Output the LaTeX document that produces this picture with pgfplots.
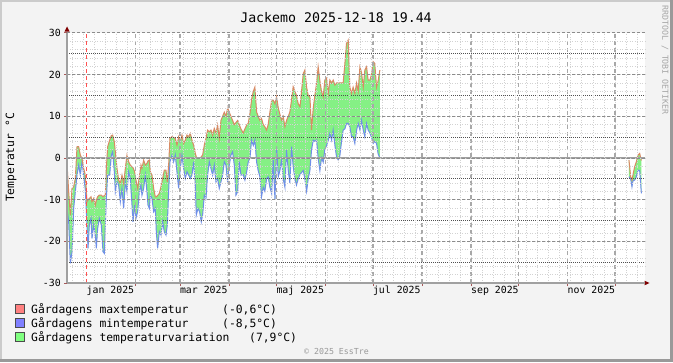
\documentclass[border=0pt]{standalone}
\usepackage{pgfplots}
\pgfplotsset{compat=1.18}
\usepackage{pgfplotstable}
\usepgfplotslibrary{fillbetween}
\usepackage{fontspec}
\setmainfont{DejaVu Sans Mono}
\definecolor{bgc}{HTML}{F3F3F3}
\definecolor{shadeA}{HTML}{CBCBCB}
\definecolor{shadeB}{HTML}{999999}
\definecolor{hmgrid}{HTML}{8C8C8C}
\definecolor{vmgrid}{HTML}{A8A8A8}
\definecolor{gridc}{HTML}{D2D2D2}
\definecolor{ruledark}{HTML}{505050}
\definecolor{zeroc}{HTML}{A0A0A0}
\definecolor{axisc}{HTML}{A0A0A0}
\definecolor{arrowc}{HTML}{7F0000}
\definecolor{maxc}{HTML}{D98A64}
\definecolor{minc}{HTML}{6F8FE8}
\definecolor{fillc}{HTML}{85F085}
\definecolor{boxmax}{HTML}{FF8080}
\definecolor{boxmin}{HTML}{8080FF}
\definecolor{boxvar}{HTML}{80FF80}
\definecolor{vrulec}{HTML}{FF5050}

\pgfplotstableread{
d max min
-12.44 -1.3 -12.1
-11.39 -8.1 -15.3
-10.34 -13.7 -25.3
-9.28 -7.3 -22.5
-8.23 -6.9 -12.1
-7.18 -4.9 -8.1
-6.12 2.7 -4.1
-5.07 2.7 -1.7
-4.02 0.7 -4.1
-2.96 -0.1 -0.9
-1.91 -2.5 -4.1
-0.86 -4.1 -7.7
0.20 -10.5 -16.1
0.83 -10.1 -21.7
1.67 -9.7 -16.1
2.72 -9.3 -14.5
3.35 -10.5 -19.3
4.41 -9.7 -16.1
5.46 -11.3 -18.5
6.09 -10.1 -21.7
6.93 -9.3 -16.9
7.99 -8.9 -14.5
9.25 -8.9 -16.1
10.30 -9.3 -22.5
11.15 -9.0 -22.9
11.78 -8.9 -16.1
12.41 -2.5 -9.7
13.25 2.7 -4.1
14.52 4.3 -4.1
15.57 5.4 0.7
16.41 5.5 1.5
17.46 3.9 -3.3
18.10 1.5 -8.1
19.15 -2.5 -5.7
20.20 -5.3 -6.5
21.26 -6.1 -10.5
22.31 -4.1 -7.3
23.36 -6.1 -12.1
24.41 -2.5 -5.7
25.47 0.7 -8.1
26.52 -0.9 -3.3
27.57 -1.7 -4.9
28.63 -2.1 -11.3
29.26 -2.3 -15.3
30.31 -3.3 -11.3
31.15 -5.3 -14.5
32.21 -7.3 -12.9
33.26 -4.5 -8.1
34.31 -1.7 -6.5
34.94 -2.5 -8.9
36.00 -0.5 -7.3
37.05 -1.7 -4.1
38.10 -1.3 -8.1
38.73 -0.7 -11.3
39.58 -0.5 -12.1
40.21 -3.3 -8.9
41.26 -4.1 -9.7
42.32 -7.3 -12.9
43.37 -9.3 -12.1
44.00 -9.3 -17.7
44.84 -9.0 -21.7
45.90 -8.5 -17.7
46.95 -6.9 -18.5
48.00 -4.9 -15.3
49.05 -2.9 -17.7
50.11 -2.9 -18.5
50.95 -5.7 -16.1
51.79 -1.7 -8.1
52.63 4.7 -0.9
53.90 5.1 0.7
54.95 4.9 -0.9
56.00 4.7 0.7
57.06 3.1 -3.3
58.11 5.1 -7.3
59.16 3.9 -2.5
60.22 5.5 0.7
61.27 3.5 -2.5
62.32 4.3 -4.9
63.38 5.5 -3.3
64.43 5.1 -4.1
65.48 5.9 -4.9
66.53 4.3 -4.1
67.59 3.1 -0.9
68.64 1.1 -6.5
69.27 0.3 -13.7
70.32 -0.1 -12.1
71.38 -0.1 -12.9
72.43 0.3 -15.3
73.27 0.7 -13.7
74.33 3.1 -8.9
75.38 4.7 -9.7
76.43 6.7 -4.1
77.49 6.3 -0.9
78.54 6.7 -2.5
79.59 5.5 -4.1
80.64 7.1 -1.7
81.70 5.9 -5.7
82.75 7.9 -4.9
83.80 4.7 -7.3
84.86 9 -5.7
85.91 10 -4.1
86.96 11 -0.9
88.02 10 -1.7
89.07 12 -5.7
90.12 11 -1.7
91.17 10 0.7
92.23 9 1.5
93.28 8 -1.7
94.33 8.5 -8.9
95.39 9 -8.1
96.44 8 -0.9
97.49 7 -4.1
98.92 6 -4
100.00 7 -5.3
101.26 8 -3
102.08 8.3 -1
103.2 10.7 0
104.2 14 4.3
105.3 16 3
106.3 17 4.3
107.4 11 -1
108.4 10 -3
109.5 9 -4.5
110.5 9.5 -9.3
111.6 8 -7
112.6 7.5 -8
113.7 6.7 -5
114.7 8 -4.5
115.8 11 -7
116.9 13.9 -8.5
117.9 13.9 -0.5
119.0 13 -10
120.0 14.7 2.7
121.1 12 -4.5
122.1 10.5 -3
123.2 9.1 -0.5
124.2 10 -5
125.3 7.5 -7
126.3 9 1.9
127.4 10 -3
128.4 11 -6
129.5 14 2.7
130.5 17.1 -2
131.6 16 -5
132.6 15 -6.5
133.7 13 -5
134.8 12.3 -4
135.8 16 -3.5
136.9 20.3 -3
137.9 21.1 -5
139.0 17 -8
140.0 15 -5
141.1 14.7 -3
142.1 6.7 1.9
143.2 12 4.3
144.2 15 4
145.3 17.9 4.3
146.3 21.9 0
147.4 18.5 -3
148.4 16 0
149.5 14.7 -1
150.5 18.7 2
151.6 19.2 3
152.7 15.5 4.3
153.7 18.7 5.9
154.8 18 4.3
155.8 18.7 6.7
156.9 17.5 3
157.9 18 0.3
159.0 18 -0.5
160.0 18 0.5
161.1 18 4
162.1 18 6.7
163.2 22.7 7
164.2 27.5 8.3
165.3 28.3 8.3
166.3 17 7.5
167.4 15.5 5.1
168.4 17 5.1
169.5 15.5 3.5
170.6 18 6.7
171.6 16 8.3
172.7 21.9 6.7
173.7 20.5 9.1
174.8 17 6.7
175.8 21.1 5.1
176.9 21.9 8.3
177.9 18.7 6.7
179.0 18.7 6
180.0 20 5
181.1 23.1 3.5
182.1 22.7 4
183.2 17 3.5
184.2 18.5 1
185.3 21.1 0
}\segA

\pgfplotstableread{
d max min
342.76 -0.5 -4.5
343.83 -4.5 -5
344.65 -5.3 -6.9
345.28 -4 -5.5
346.36 -2.1 -5.3
347.43 -0.9 -4.5
348.44 0.7 -2.9
349.52 1.1 -3
350.6 -0.6 -8.5
}\segE

\begin{document}
\begin{tikzpicture}[x=1bp,y=1bp]
\fill[bgc] (0,0) rectangle (673,362);
\fill[shadeA] (0,0) rectangle (2,362);
\fill[shadeA] (0,360) rectangle (673,362);
\fill[shadeB] (670,0) rectangle (673,362);
\fill[shadeB] (0,0) rectangle (673,3);
\fill[white] (67,79) rectangle (645,329);

\begin{axis}[
  at={(67bp,79bp)}, anchor=south west,
  scale only axis, width=578bp, height=250bp,
  xmin=-12.45, xmax=352.9, ymin=-30, ymax=30,
  axis on top,
  fill between/on layer=main,
  axis x line*=bottom, axis y line*=left,
  x axis line style={draw=axisc, line width=2bp},
  y axis line style={draw=axisc, line width=2bp},
  xtick={31,59,90,120,151,181,212,243,273,304,334},
  xticklabels={},
  extra x ticks={15,74,135,196,258,319},
  extra x tick labels={jan 2025,mar 2025,maj 2025,jul 2025,sep 2025,nov 2025},
  extra x tick style={grid=none, major tick length=0pt},
  minor xtick={-9,-2,...,352},
  ytick={-30,-20,...,30},
  yticklabels={-30,-20,-10,0,10,20,30},
  minor ytick={-28,-26,...,28},
  xmajorgrids, ymajorgrids, xminorgrids, yminorgrids,
  major x grid style={draw=vmgrid, line width=1.5bp, dash pattern=on 4bp off 3bp},
  major y grid style={draw=hmgrid, line width=1bp, dash pattern=on 3bp off 2bp},
  minor grid style={draw=gridc, line width=0.8bp, dash pattern=on 1bp off 1.5bp},
  tick align=outside,
  major tick length=3bp, minor tick length=0bp,
  tick style={draw=red!30!gray, line width=1bp},
  ticklabel style={font=\fontsize{9.9}{10}\selectfont, inner sep=0pt},
  yticklabel style={anchor=east, xshift=-3bp},
  xticklabel style={anchor=north, yshift=-3bp},
]
\addplot[draw=none, name path=amax, forget plot] table[x=d, y=max] {\segA};
\addplot[draw=none, name path=amin, forget plot] table[x=d, y=min] {\segA};
\addplot[fill=fillc, draw=none] fill between[of=amax and amin];
\addplot[draw=none, name path=emax, forget plot] table[x=d, y=max] {\segE};
\addplot[draw=none, name path=emin, forget plot] table[x=d, y=min] {\segE};
\addplot[fill=fillc, draw=none] fill between[of=emax and emin];

\addplot[minc, line width=1bp] table[x=d, y=min] {\segA};
\addplot[minc, line width=1bp] table[x=d, y=min] {\segE};
\addplot[maxc, line width=1bp] table[x=d, y=max] {\segA};
\addplot[maxc, line width=1bp] table[x=d, y=max] {\segE};

\addplot[zeroc, line width=2bp] coordinates {(-12.45,0) (352.9,0)};
\addplot[ruledark, line width=0.8bp, dash pattern=on 1bp off 1bp] coordinates {(-12.45,5) (352.9,5)};
\addplot[ruledark, line width=0.8bp, dash pattern=on 1bp off 1bp] coordinates {(-12.45,15) (352.9,15)};
\addplot[ruledark, line width=0.8bp, dash pattern=on 1bp off 1bp] coordinates {(-12.45,25) (352.9,25)};
\addplot[ruledark, line width=0.8bp, dash pattern=on 1bp off 1bp] coordinates {(-12.45,-5) (352.9,-5)};
\addplot[ruledark, line width=0.8bp, dash pattern=on 1bp off 1bp] coordinates {(-12.45,-15) (352.9,-15)};
\addplot[ruledark, line width=0.8bp, dash pattern=on 1bp off 1bp] coordinates {(-12.45,-25) (352.9,-25)};
\addplot[vrulec, line width=1.6bp, dash pattern=on 4bp off 3bp] coordinates {(0,-30) (0,30)};
\end{axis}

% axis arrows
\fill[arrowc] (64.5,330.5) -- (69.5,330.5) -- (67,335.5) -- cycle;
\fill[arrowc] (644.5,81.3) -- (644.5,76.7) -- (649.5,79) -- cycle;

% title and labels
\node[font=\fontsize{13.3}{15}\selectfont, inner sep=0pt] at (336,344.4) {Jackemo 2025-12-18 19.44};
\node[rotate=90, font=\fontsize{11.4}{12}\selectfont, inner sep=0pt] at (11,204.5) {Temperatur °C};
\node[rotate=-90, font=\fontsize{8.3}{9}\selectfont, text=black!35, inner sep=0pt] at (665,302) {RRDTOOL / TOBI OETIKER};

% legend
\filldraw[fill=boxmax, draw=black!70, line width=0.6bp] (15,49) rectangle (24,58);
\filldraw[fill=boxmin, draw=black!70, line width=0.6bp] (15,35) rectangle (24,44);
\filldraw[fill=boxvar, draw=black!70, line width=0.6bp] (15,21) rectangle (24,30);
\begin{scope}[every node/.style={font=\fontsize{11.4}{12}\selectfont, inner sep=0pt, anchor=base west}]
\node at (31,49) {Gårdagens maxtemperatur};
\node at (222,49) {(-0,6°C)};
\node at (31,35) {Gårdagens mintemperatur};
\node at (222,35) {(-8,5°C)};
\node at (31,21) {Gårdagens temperaturvariation};
\node at (249,21) {(7,9°C)};
\end{scope}
\node[font=\fontsize{8.3}{9}\selectfont, text=black!40, inner sep=0pt] at (336.5,11) {© 2025 EssTre};

\pgfresetboundingbox
\useasboundingbox (0,0) rectangle (673,362);
\end{tikzpicture}
\end{document}
